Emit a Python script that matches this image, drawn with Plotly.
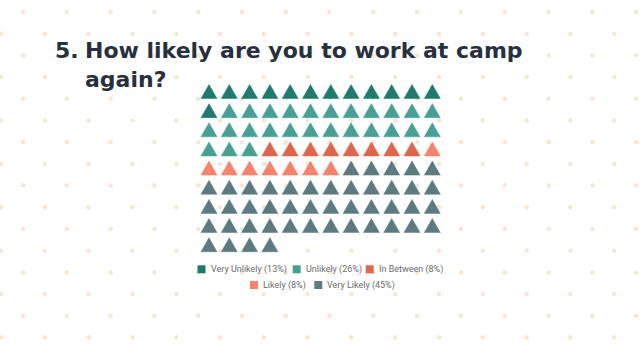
import plotly.graph_objects as go

# ---------------- data ----------------
categories = ["Very Unlikely", "Unlikely", "In Between", "Likely", "Very Likely"]
percent = [13, 26, 8, 8, 45]
colors = ["#1f7b6d", "#46a094", "#e0654b", "#f8836a", "#5b7b80"]
title_num = "5."
title_text = "How likely are you to work at camp<br>again?"

n_cols = 12

# ---------------- layout constants (pixels) ----------------
W, H = 640, 351
col_px, row_px = 20.3, 19.15        # grid spacing
first_cx, first_tip = 209.0, 84.5   # first triangle centre x / tip y
tri_w, tri_h = 16.0, 14.0

fig = go.Figure()

# background dot pattern (decoration) on base pixel axes
dx, dy = 43.8, 21.7
dxs, dys = [], []
j = 0
while 12 + j * dy < H + 5:
    y = 12 + j * dy
    x0 = 23 if j % 2 == 0 else 1
    k = 0
    while x0 + k * dx < W + 5:
        dxs.append(x0 + k * dx)
        dys.append(y)
        k += 1
    j += 1
fig.add_trace(go.Scatter(x=dxs, y=dys, mode="markers", xaxis="x", yaxis="y",
                         marker=dict(size=4.5, color="#f3e8d3"),
                         hoverinfo="skip", showlegend=False))

# ---------------- waffle of triangles (grid units on overlay axes) ----------------
hw = (tri_w / 2) / col_px
th = tri_h / row_px
idx = 0
for cat, p, c in zip(categories, percent, colors):
    xs, ys = [], []
    for _ in range(p):
        col = idx % n_cols
        row = idx // n_cols
        xs += [col - hw, col + hw, col, col - hw, None]
        ys += [row + th, row + th, row, row + th, None]
        idx += 1
    fig.add_trace(go.Scatter(x=xs, y=ys, mode="lines", fill="toself",
                             fillcolor=c, line=dict(color=c, width=0.5),
                             xaxis="x2", yaxis="y2", name=cat,
                             hoverinfo="skip", showlegend=False))

# ---------------- custom legend ----------------
leg_swatch_x = [201.5, 296.7, 369.7, 254.0, 318.3]
leg_text_x = [208.5, 303.5, 376.5, 260.5, 324.5]
leg_y = [269.3, 269.3, 269.3, 285.0, 285.0]
fig.add_trace(go.Scatter(x=leg_swatch_x, y=leg_y, mode="markers",
                         xaxis="x", yaxis="y",
                         marker=dict(symbol="square", size=8, color=colors),
                         hoverinfo="skip", showlegend=False))
annotations = []
for cat, p, tx, ty in zip(categories, percent, leg_text_x, leg_y):
    annotations.append(dict(x=tx, y=ty, xref="x", yref="y", xanchor="left",
                            yanchor="middle", showarrow=False,
                            text=f"{cat} ({p}%)",
                            font=dict(family="Roboto, Arial, sans-serif",
                                      size=9, color="#6b6b6b")))

# ---------------- title ----------------
title_font = dict(family="DejaVu Sans, sans-serif", size=22, color="#27303d",
                  weight=700)
annotations.append(dict(x=53, y=36, xref="x", yref="y", xanchor="left",
                        yanchor="top", showarrow=False, text=f"<b>{title_num}</b>",
                        font=title_font))
annotations.append(dict(x=83, y=36, xref="x", yref="y", xanchor="left",
                        yanchor="top", showarrow=False, align="left",
                        text=f"<b>{title_text}</b>", font=title_font))

# grid-unit axis ranges so that grid aligns with pixel layout
x2_0 = -first_cx / col_px
x2_1 = x2_0 + W / col_px
y2_top = -first_tip / row_px
y2_bot = y2_top + H / row_px

axis_off = dict(visible=False, showgrid=False, zeroline=False, fixedrange=True)
fig.update_layout(
    width=W, height=H,
    margin=dict(l=0, r=0, t=0, b=0),
    paper_bgcolor="white", plot_bgcolor="white",
    xaxis=dict(range=[0, W], **axis_off),
    yaxis=dict(range=[H, 0], **axis_off),
    xaxis2=dict(range=[x2_0, x2_1], overlaying="x", **axis_off),
    yaxis2=dict(range=[y2_bot, y2_top], overlaying="y", **axis_off),
    annotations=annotations,
    showlegend=False,
)

fig.write_html("out.html")
